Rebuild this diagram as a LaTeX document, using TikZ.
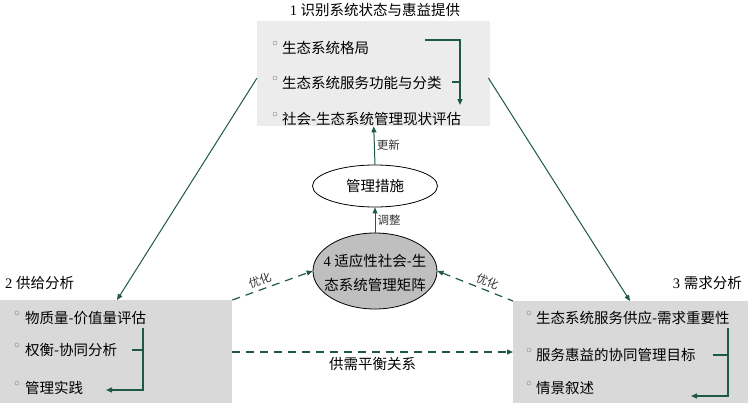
\documentclass[tikz,border=0pt]{standalone}
\usepackage{fontspec}
\setmainfont{Liberation Serif}
\newfontfamily\cjk{Noto Sans CJK SC}
\usetikzlibrary{shapes.geometric,arrows.meta,calc}
\definecolor{ag}{RGB}{30,88,70}
\definecolor{topfill}{RGB}{236,236,236}
\definecolor{sidefill}{RGB}{217,217,217}
\definecolor{matfill}{RGB}{191,191,191}
\definecolor{bulletc}{RGB}{150,150,150}
\tikzset{
  boxfill/.style={fill=#1, draw=none, inner sep=0pt, anchor=north west},
  itemtext/.style={anchor=west, inner sep=0pt, font=\fontsize{14.5}{17}\selectfont\cjk},
  titletext/.style={inner sep=0pt, font=\fontsize{14.5}{17}\selectfont},
  smalllab/.style={inner sep=2pt, font=\fontsize{11.5}{13}\selectfont\cjk, text=black!80},
  bul/.style={circle, draw=bulletc, line width=0.5pt, minimum size=4pt, inner sep=0pt},
  arr/.style={draw=ag, line width=1pt, -{Triangle[length=6pt,width=5pt]}},
  brk/.style={draw=ag, line width=1.3pt},
  brkarr/.style={draw=ag, line width=1.3pt, -{Triangle[length=6pt,width=5pt]}},
  dasharr/.style={draw=ag, line width=1.2pt, dash pattern=on 8pt off 6pt},
}
\begin{document}
\begin{tikzpicture}[x=1pt,y=-1pt]
\useasboundingbox (0,0) rectangle (748,405);
% boxes
\node[boxfill=topfill, minimum width=233pt, minimum height=105pt] (tb) at (257,21) {};
\node[boxfill=sidefill, minimum width=232pt, minimum height=103pt] (lb) at (0,300) {};
\node[boxfill=sidefill, minimum width=235pt, minimum height=102pt] (rb) at (513,301) {};
% titles
\node[titletext] (t1) at (375,10) {1 {\cjk 识别系统状态与惠益提供}};
\node[titletext, anchor=west] (t2) at (5,283) {2 {\cjk 供给分析}};
\node[titletext, anchor=east] (t3) at (742,283) {3 {\cjk 需求分析}};
% top items
\node[bul] (b11) at (275,43) {};
\node[itemtext] (i11) at (282,48) {生态系统格局};
\node[bul] (b12) at (275,78) {};
\node[itemtext] (i12) at (282,83) {生态系统服务功能与分类};
\node[bul] (b13) at (275,114) {};
\node[itemtext] (i13) at (282,119) {社会-生态系统管理现状评估};
% left items
\node[bul] (b21) at (17,313) {};
\node[itemtext] (i21) at (25,318) {物质量-价值量评估};
\node[bul] (b22) at (17,345) {};
\node[itemtext] (i22) at (25,350) {权衡-协同分析};
\node[bul] (b23) at (17,383) {};
\node[itemtext] (i23) at (25,388) {管理实践};
% right items
\node[bul] (b31) at (529,313) {};
\node[itemtext] (i31) at (536,318) {生态系统服务供应-需求重要性};
\node[bul] (b32) at (529,350) {};
\node[itemtext] (i32) at (536,355) {服务惠益的协同管理目标};
\node[bul] (b33) at (529,383) {};
\node[itemtext] (i33) at (536,388) {情景叙述};
% bracket arrows
\coordinate (a1s) at (425,40);
\coordinate (a1c) at (460,40);
\coordinate (a1e) at (460,105);
\coordinate (a1m) at (452,82);
\draw[brkarr] (a1s) -- (a1c) -- (a1e);
\draw[brk] (a1m) -- (a1m -| a1c);
\coordinate (a2s) at (143,328);
\coordinate (a2c) at (143,390);
\coordinate (a2e) at (106,390);
\coordinate (a2m) at (132,350);
\draw[brkarr] (a2s) -- (a2c) -- (a2e);
\draw[brk] (a2m) -- (a2m -| a2c);
\coordinate (a3s) at (728,328);
\coordinate (a3c) at (728,396);
\coordinate (a3e) at (691,396);
\coordinate (a3m) at (713,355);
\draw[brkarr] (a3s) -- (a3c) -- (a3e);
\draw[brk] (a3m) -- (a3m -| a3c);
% ellipses
\node[ellipse, draw=black, line width=0.8pt, fill=white, minimum width=125pt, minimum height=42pt, inner sep=0pt, font=\fontsize{14.5}{17}\selectfont\cjk] (mm) at (375,186) {管理措施};
\node[ellipse, draw=black, line width=0.8pt, fill=matfill, minimum width=124pt, minimum height=76pt, inner sep=0pt] (gm) at (375,271) {};
\node[align=center, inner sep=0pt, font=\fontsize{14.5}{24}\selectfont] (gmt) at (375,273) {4 {\cjk 适应性社会-生}\\{\cjk 态系统管理矩阵}};
% vertical arrows
\draw[arr] (gm.north) -- (mm.south) node[smalllab, midway, right] {调整};
\draw[arr] (mm.north) -- (tb.south) node[smalllab, midway, right] {更新};
% diagonal arrows
\draw[arr] ($(tb.north west)+(0,57)$) -- ($(lb.north west)+(117,0)$);
\draw[arr] ($(tb.north east)+(-2,57)$) -- ($(rb.north west)+(117,0)$);
% dashed arrows
\draw[dasharr, -{Triangle[length=6pt,width=5pt]}] (lb.north east) -- (gm.west) node[smalllab, pos=0.38, above=1pt, sloped] {优化};
\draw[dasharr, {Triangle[length=6pt,width=5pt]}-] (gm.east) -- (rb.north west) node[smalllab, pos=0.62, above=1pt, sloped] {优化};
\draw[dasharr, -{Triangle[length=6pt,width=5pt]}] ($(lb.north east)+(0,52)$) -- ($(rb.north west)+(0,51)$) node[midway, below=5pt, inner sep=0pt, font=\fontsize{14.5}{17}\selectfont\cjk] {供需平衡关系};
\end{tikzpicture}
\end{document}
